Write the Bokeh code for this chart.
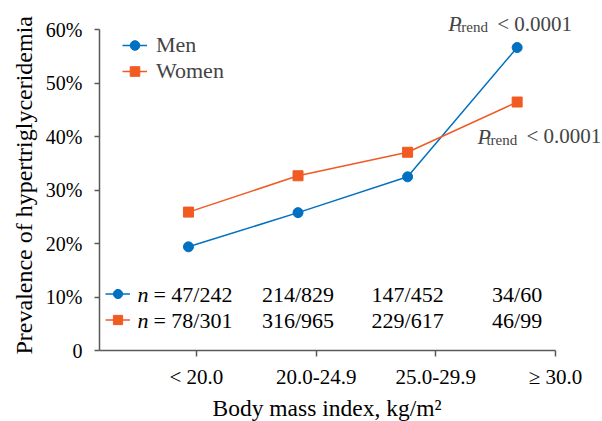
from bokeh.plotting import figure
from bokeh.models import FixedTicker, Range1d, Legend, LegendItem, Label, Title
from bokeh.core.properties import value
from bokeh.embed import file_html
from bokeh.resources import INLINE

# ---- data ----
categories = ["< 20.0", "20.0-24.9", "25.0-29.9", "≥ 30.0"]
men_pct = [19.4, 25.8, 32.5, 56.7]
women_pct = [25.9, 32.7, 37.1, 46.5]
men_n = ["47/242", "214/829", "147/452", "34/60"]
women_n = ["78/301", "316/965", "229/617", "46/99"]
y_ticks = [0, 10, 20, 30, 40, 50, 60]
y_tick_labels = ["0", "10%", "20%", "30%", "40%", "50%", "60%"]
x_title = "Body mass index, kg/m²"
y_title = "Prevalence of hypertriglyceridemia"
p_trend_men = "< 0.0001"
p_trend_women = "< 0.0001"

# ---- style ----
FONT = "Liberation Serif"
BLUE = "#0070C0"
ORANGE = "#F15A22"
AXIS = "#595959"

idx = list(range(len(categories)))
x_tick_pos = [0.073 + i * 1.0925 for i in idx]
n_row_y = [10.4, 5.6]
X0, X1 = -0.812, 3.779
Y1 = 65.5

p = figure(width=602, height=421, output_backend="svg", toolbar_location=None,
           x_range=Range1d(X0, X1), y_range=Range1d(0, Y1),
           min_border_left=99, min_border_right=0, min_border_top=0, min_border_bottom=69)
p.outline_line_color = None
p.xgrid.visible = False
p.ygrid.visible = False
p.background_fill_color = "white"
p.border_fill_color = "white"

# axes
for ax in (p.xaxis[0], p.yaxis[0]):
    ax.axis_line_color = AXIS
    ax.axis_line_width = 1.5
    ax.major_tick_line_color = AXIS
    ax.major_tick_line_width = 1.5
    ax.minor_tick_line_color = None
    ax.major_tick_in = 0
    ax.major_label_text_font = FONT
    ax.major_label_text_color = "black"

p.xaxis.ticker = FixedTicker(ticks=x_tick_pos)
p.xaxis.bounds = (X0, x_tick_pos[-1])
p.xaxis.major_label_overrides = {t: c for t, c in zip(x_tick_pos, categories)}
p.xaxis.major_tick_out = 6
p.xaxis.major_label_text_font_size = "21px"
p.xaxis.major_label_standoff = 8

p.yaxis.ticker = FixedTicker(ticks=y_ticks)
p.yaxis.bounds = (y_ticks[0], y_ticks[-1])
p.yaxis.major_label_overrides = {t: l for t, l in zip(y_ticks, y_tick_labels)}
p.yaxis.major_tick_out = 5
p.yaxis.major_label_text_font_size = "20px"
p.yaxis.major_label_standoff = 12

# axis titles (aligned to the axis extent, not the whole frame)
p.add_layout(Title(text=x_title, align="left", offset=113, standoff=2,
                   text_font=FONT, text_font_size="23.5px", text_font_style="normal",
                   text_color="black"), "below")
p.add_layout(Title(text=y_title, align="left", offset=-4, standoff=11,
                   text_font=FONT, text_font_size="24px", text_font_style="normal",
                   text_color="black"), "left")

# series
men_line = p.line(idx, men_pct, line_color=BLUE, line_width=1.5)
men_pts = p.scatter(idx, men_pct, marker="circle", size=10, fill_color=BLUE, line_color=BLUE)
women_line = p.line(idx, women_pct, line_color=ORANGE, line_width=1.5)
women_pts = p.scatter(idx, women_pct, marker="square", size=10, fill_color=ORANGE, line_color=ORANGE)

# main legend
leg = Legend(items=[LegendItem(label="Men", renderers=[men_line, men_pts]),
                    LegendItem(label="Women", renderers=[women_line, women_pts])],
             location=(23, 266), glyph_width=25, glyph_height=24, label_height=24,
             label_standoff=9, spacing=-2, padding=0, margin=0,
             border_line_alpha=0, background_fill_alpha=0,
             label_text_font=FONT, label_text_font_size="22px")
p.add_layout(leg)

# n-row legend keys
leg2 = Legend(items=[LegendItem(label=" ", renderers=[men_line, men_pts]),
                     LegendItem(label=" ", renderers=[women_line, women_pts])],
              location=(6, 19), glyph_width=25, glyph_height=23, label_height=23,
              label_standoff=2, spacing=3, padding=0, margin=0,
              border_line_alpha=0, background_fill_alpha=0,
              label_text_font=FONT, label_text_font_size="8px")
p.add_layout(leg2)

# n-row texts
for row_y, fracs in zip(n_row_y, (men_n, women_n)):
    p.text(x=[0], y=[row_y], text=["n"], text_font=value(FONT), text_font_style="italic",
           text_font_size="22px", text_align="left", text_baseline="middle", x_offset=-51)
    p.text(x=[0], y=[row_y], text=["= " + fracs[0]], text_font=value(FONT),
           text_font_size="22px", text_align="left", text_baseline="middle", x_offset=-35)
    p.text(x=idx[1:], y=[row_y] * (len(idx) - 1), text=fracs[1:], text_font=value(FONT),
           text_font_size="22px", text_align="center", text_baseline="middle")

# P trend labels
def p_trend(yv, txt, dx, dy):
    p.add_layout(Label(x=idx[-1], y=yv, text="P", text_font=FONT, text_font_style="italic",
                       text_font_size="22px", text_baseline="alphabetic",
                       x_offset=dx, y_offset=dy))
    p.add_layout(Label(x=idx[-1], y=yv, text="trend", text_font=FONT,
                       text_font_size="15px", text_baseline="alphabetic",
                       x_offset=dx + 9, y_offset=dy - 3.4))
    p.add_layout(Label(x=idx[-1], y=yv, text=txt, text_font=FONT,
                       text_font_size="21px", text_baseline="alphabetic",
                       x_offset=dx + 49, y_offset=dy))

p_trend(men_pct[-1], p_trend_men, -69, 24)
p_trend(women_pct[-1], p_trend_women, -39.7, -34.4)

open("out.html", "w").write(file_html(p, INLINE))
